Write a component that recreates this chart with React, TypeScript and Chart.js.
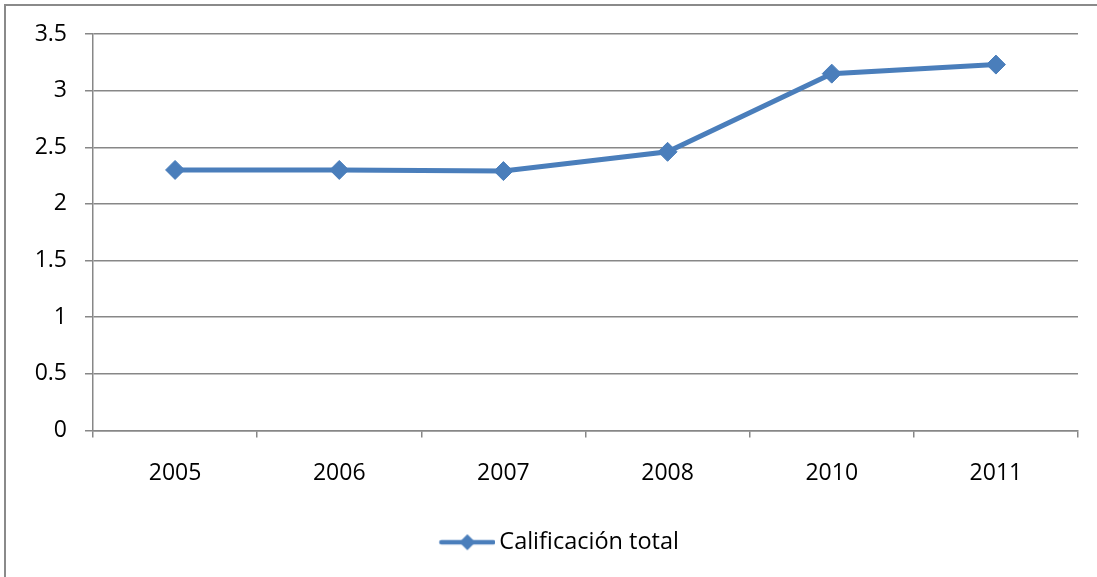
import React, { useEffect, useRef } from "react";
import { Chart, registerables } from "chart.js";

Chart.register(...registerables);

const years = ["2005", "2006", "2007", "2008", "2010", "2011"];
const totalScore = [2.3, 2.3, 2.29, 2.46, 3.15, 3.23];
const seriesName = "Calificación total";
const yTicks = [0, 0.5, 1, 1.5, 2, 2.5, 3, 3.5];

const LINE_BLUE = "#4A7EBB";
const GRID_GRAY = "#878787";
const FONT = "'Open Sans', 'Noto Sans', sans-serif";

// Legend swatch: short line segment with a diamond in its middle,
// placed in the right part of a wider transparent image
function makeLegendSwatch(): HTMLCanvasElement {
  const c = document.createElement("canvas");
  c.width = 104;
  c.height = 18;
  const ctx = c.getContext("2d")!;
  const x0 = 48;
  const cx = x0 + 28;
  ctx.strokeStyle = LINE_BLUE;
  ctx.lineWidth = 4.5;
  ctx.lineCap = "round";
  ctx.beginPath();
  ctx.moveTo(x0 + 2, 9);
  ctx.lineTo(x0 + 54, 9);
  ctx.stroke();
  ctx.fillStyle = LINE_BLUE;
  ctx.beginPath();
  ctx.moveTo(cx, 1);
  ctx.lineTo(cx + 8, 9);
  ctx.lineTo(cx, 17);
  ctx.lineTo(cx - 8, 9);
  ctx.closePath();
  ctx.fill();
  return c;
}

export default function App() {
  const canvasRef = useRef<HTMLCanvasElement | null>(null);

  useEffect(() => {
    document.body.style.margin = "0";
    const canvas = canvasRef.current;
    if (!canvas) return;
    const swatch = makeLegendSwatch();

    const chart = new Chart(canvas, {
      type: "line",
      data: {
        labels: years,
        datasets: [
          {
            label: seriesName,
            data: totalScore,
            borderColor: LINE_BLUE,
            backgroundColor: LINE_BLUE,
            borderWidth: 5,
            pointStyle: "rectRot",
            pointRadius: 9.5,
            pointHoverRadius: 9.5,
            pointBackgroundColor: LINE_BLUE,
            pointBorderColor: LINE_BLUE,
            pointBorderWidth: 1,
            tension: 0,
            fill: false,
          },
        ],
      },
      options: {
        animation: false,
        responsive: false,
        maintainAspectRatio: false,
        layout: { padding: { top: 34, right: 19, bottom: 13, left: 0 } },
        plugins: {
          tooltip: { enabled: false },
          legend: {
            display: true,
            position: "bottom",
            labels: {
              usePointStyle: true,
              pointStyleWidth: 88.5,
              padding: 10,
              color: "#000",
              font: { family: FONT, size: 23.5 },
              generateLabels: () => [
                {
                  text: seriesName,
                  pointStyle: swatch as any,
                  fillStyle: LINE_BLUE,
                  strokeStyle: LINE_BLUE,
                  lineWidth: 0,
                  hidden: false,
                  datasetIndex: 0,
                },
              ],
            },
          },
        },
        scales: {
          x: {
            type: "category",
            offset: true,
            grid: {
              offset: true,
              drawOnChartArea: false,
              drawTicks: true,
              tickLength: 7,
              color: GRID_GRAY,
              lineWidth: 1.5,
            },
            border: { display: true, color: GRID_GRAY, width: 1.5 },
            ticks: {
              color: "#000",
              padding: 22,
              maxRotation: 0,
              font: { family: FONT, size: 23 },
            },
            afterFit: (scale: any) => {
              scale.height = 90;
            },
          },
          y: {
            min: 0,
            max: 3.5,
            afterBuildTicks: (scale: any) => {
              scale.ticks = yTicks.map((v) => ({ value: v }));
            },
            grid: {
              color: GRID_GRAY,
              lineWidth: 1.5,
              drawTicks: true,
              tickLength: 8,
            },
            border: { display: true, color: GRID_GRAY, width: 1.5 },
            ticks: {
              color: "#000",
              padding: 18,
              font: { family: FONT, size: 23 },
              callback: (v: any) => String(v),
            },
            afterFit: (scale: any) => {
              scale.width = 93;
            },
          },
        },
      },
    });
    return () => chart.destroy();
  }, []);

  return (
    <div style={{ position: "relative", width: 1097, height: 577, overflow: "hidden", background: "#fff" }}>
      <div
        style={{
          position: "absolute",
          left: 4,
          top: 4,
          width: 1200,
          height: 700,
          border: "2px solid #8a8a8a",
          boxSizing: "border-box",
        }}
      />
      <canvas ref={canvasRef} width={1097} height={577} style={{ position: "absolute", left: 0, top: 0 }} />
    </div>
  );
}
